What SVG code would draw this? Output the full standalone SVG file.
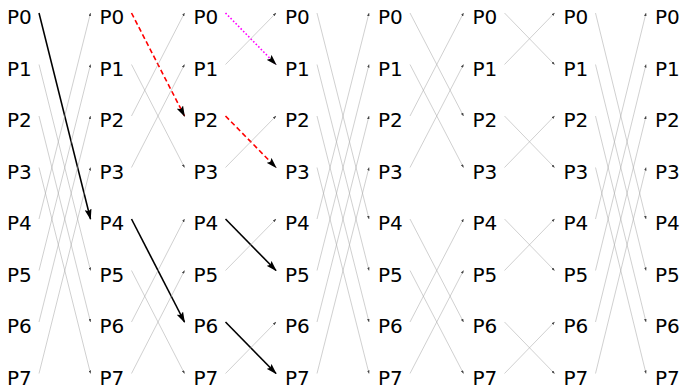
<svg xmlns="http://www.w3.org/2000/svg" width="685" height="388" viewBox="0 0 685 388">
<style>
text{font-family:"DejaVu Sans","Noto Sans",sans-serif;font-size:20px;fill:#000}
.g{stroke:#a8a8a8;stroke-width:0.55;fill:none;marker-end:url(#ag)}
.k{stroke:#000;stroke-width:1.6;fill:none;marker-end:url(#ak)}
.r{stroke:#f00;stroke-width:1.6;fill:none;stroke-dasharray:5 3;marker-end:url(#ak)}
.m{stroke:#f0f;stroke-width:1.6;fill:none;stroke-dasharray:1.6 2;marker-end:url(#ak)}
</style>
<defs>
<marker id="ag" markerUnits="userSpaceOnUse" viewBox="0 0 4 3" refX="3.6" refY="1.5" markerWidth="3.5" markerHeight="2.6" orient="auto"><path d="M0,0 L4,1.5 L0,3 z" fill="#444"/></marker>
<marker id="ak" markerUnits="userSpaceOnUse" viewBox="0 0 11 7" refX="10" refY="3.5" markerWidth="11" markerHeight="7" orient="auto"><path d="M0,0 L11,3.5 L0,7 L2,3.5 z" fill="#000"/></marker>
</defs>
<g id="connectors">
<line class="k" x1="39" y1="13" x2="90.5" y2="219"/>
<line class="g" x1="39" y1="64.5" x2="90.5" y2="270.5"/>
<line class="g" x1="39" y1="116" x2="90.5" y2="322"/>
<line class="g" x1="39" y1="167.5" x2="90.5" y2="373.5"/>
<line class="g" x1="39" y1="219" x2="90.5" y2="13"/>
<line class="g" x1="39" y1="270.5" x2="90.5" y2="64.5"/>
<line class="g" x1="39" y1="322" x2="90.5" y2="116"/>
<line class="g" x1="39" y1="373.5" x2="90.5" y2="167.5"/>

<line class="r" x1="131.5" y1="13" x2="184.5" y2="116"/>
<line class="g" x1="131.5" y1="64.5" x2="184.5" y2="167.5"/>
<line class="g" x1="131.5" y1="116" x2="184.5" y2="13"/>
<line class="g" x1="131.5" y1="167.5" x2="184.5" y2="64.5"/>
<line class="k" x1="131.5" y1="219" x2="184.5" y2="322"/>
<line class="g" x1="131.5" y1="270.5" x2="184.5" y2="373.5"/>
<line class="g" x1="131.5" y1="322" x2="184.5" y2="219"/>
<line class="g" x1="131.5" y1="373.5" x2="184.5" y2="270.5"/>

<line class="m" x1="225.5" y1="13" x2="276" y2="64.5"/>
<line class="g" x1="225.5" y1="64.5" x2="276" y2="13"/>
<line class="r" x1="225.5" y1="116" x2="276" y2="167.5"/>
<line class="g" x1="225.5" y1="167.5" x2="276" y2="116"/>
<line class="k" x1="225.5" y1="219" x2="276" y2="270.5"/>
<line class="g" x1="225.5" y1="270.5" x2="276" y2="219"/>
<line class="k" x1="225.5" y1="322" x2="276" y2="373.5"/>
<line class="g" x1="225.5" y1="373.5" x2="276" y2="322"/>

<line class="g" x1="317" y1="13" x2="369" y2="219"/>
<line class="g" x1="317" y1="64.5" x2="369" y2="270.5"/>
<line class="g" x1="317" y1="116" x2="369" y2="322"/>
<line class="g" x1="317" y1="167.5" x2="369" y2="373.5"/>
<line class="g" x1="317" y1="219" x2="369" y2="13"/>
<line class="g" x1="317" y1="270.5" x2="369" y2="64.5"/>
<line class="g" x1="317" y1="322" x2="369" y2="116"/>
<line class="g" x1="317" y1="373.5" x2="369" y2="167.5"/>

<line class="g" x1="410" y1="13" x2="463.5" y2="116"/>
<line class="g" x1="410" y1="64.5" x2="463.5" y2="167.5"/>
<line class="g" x1="410" y1="116" x2="463.5" y2="13"/>
<line class="g" x1="410" y1="167.5" x2="463.5" y2="64.5"/>
<line class="g" x1="410" y1="219" x2="463.5" y2="322"/>
<line class="g" x1="410" y1="270.5" x2="463.5" y2="373.5"/>
<line class="g" x1="410" y1="322" x2="463.5" y2="219"/>
<line class="g" x1="410" y1="373.5" x2="463.5" y2="270.5"/>

<line class="g" x1="504.5" y1="13" x2="554.5" y2="64.5"/>
<line class="g" x1="504.5" y1="64.5" x2="554.5" y2="13"/>
<line class="g" x1="504.5" y1="116" x2="554.5" y2="167.5"/>
<line class="g" x1="504.5" y1="167.5" x2="554.5" y2="116"/>
<line class="g" x1="504.5" y1="219" x2="554.5" y2="270.5"/>
<line class="g" x1="504.5" y1="270.5" x2="554.5" y2="219"/>
<line class="g" x1="504.5" y1="322" x2="554.5" y2="373.5"/>
<line class="g" x1="504.5" y1="373.5" x2="554.5" y2="322"/>

<line class="g" x1="595.5" y1="13" x2="646" y2="219"/>
<line class="g" x1="595.5" y1="64.5" x2="646" y2="270.5"/>
<line class="g" x1="595.5" y1="116" x2="646" y2="322"/>
<line class="g" x1="595.5" y1="167.5" x2="646" y2="373.5"/>
<line class="g" x1="595.5" y1="219" x2="646" y2="13"/>
<line class="g" x1="595.5" y1="270.5" x2="646" y2="64.5"/>
<line class="g" x1="595.5" y1="322" x2="646" y2="116"/>
<line class="g" x1="595.5" y1="373.5" x2="646" y2="167.5"/>
</g>
<g id="col0">
<g id="c0p0"><text x="7" y="24">P0</text></g>
<g id="c0p1"><text x="7" y="75.5">P1</text></g>
<g id="c0p2"><text x="7" y="127">P2</text></g>
<g id="c0p3"><text x="7" y="178.5">P3</text></g>
<g id="c0p4"><text x="7" y="230">P4</text></g>
<g id="c0p5"><text x="7" y="281.5">P5</text></g>
<g id="c0p6"><text x="7" y="333">P6</text></g>
<g id="c0p7"><text x="7" y="384.5">P7</text></g>
</g>
<g id="col1">
<g id="c1p0"><text x="99.5" y="24">P0</text></g>
<g id="c1p1"><text x="99.5" y="75.5">P1</text></g>
<g id="c1p2"><text x="99.5" y="127">P2</text></g>
<g id="c1p3"><text x="99.5" y="178.5">P3</text></g>
<g id="c1p4"><text x="99.5" y="230">P4</text></g>
<g id="c1p5"><text x="99.5" y="281.5">P5</text></g>
<g id="c1p6"><text x="99.5" y="333">P6</text></g>
<g id="c1p7"><text x="99.5" y="384.5">P7</text></g>
</g>
<g id="col2">
<g id="c2p0"><text x="193.5" y="24">P0</text></g>
<g id="c2p1"><text x="193.5" y="75.5">P1</text></g>
<g id="c2p2"><text x="193.5" y="127">P2</text></g>
<g id="c2p3"><text x="193.5" y="178.5">P3</text></g>
<g id="c2p4"><text x="193.5" y="230">P4</text></g>
<g id="c2p5"><text x="193.5" y="281.5">P5</text></g>
<g id="c2p6"><text x="193.5" y="333">P6</text></g>
<g id="c2p7"><text x="193.5" y="384.5">P7</text></g>
</g>
<g id="col3">
<g id="c3p0"><text x="285" y="24">P0</text></g>
<g id="c3p1"><text x="285" y="75.5">P1</text></g>
<g id="c3p2"><text x="285" y="127">P2</text></g>
<g id="c3p3"><text x="285" y="178.5">P3</text></g>
<g id="c3p4"><text x="285" y="230">P4</text></g>
<g id="c3p5"><text x="285" y="281.5">P5</text></g>
<g id="c3p6"><text x="285" y="333">P6</text></g>
<g id="c3p7"><text x="285" y="384.5">P7</text></g>
</g>
<g id="col4">
<g id="c4p0"><text x="378" y="24">P0</text></g>
<g id="c4p1"><text x="378" y="75.5">P1</text></g>
<g id="c4p2"><text x="378" y="127">P2</text></g>
<g id="c4p3"><text x="378" y="178.5">P3</text></g>
<g id="c4p4"><text x="378" y="230">P4</text></g>
<g id="c4p5"><text x="378" y="281.5">P5</text></g>
<g id="c4p6"><text x="378" y="333">P6</text></g>
<g id="c4p7"><text x="378" y="384.5">P7</text></g>
</g>
<g id="col5">
<g id="c5p0"><text x="472.5" y="24">P0</text></g>
<g id="c5p1"><text x="472.5" y="75.5">P1</text></g>
<g id="c5p2"><text x="472.5" y="127">P2</text></g>
<g id="c5p3"><text x="472.5" y="178.5">P3</text></g>
<g id="c5p4"><text x="472.5" y="230">P4</text></g>
<g id="c5p5"><text x="472.5" y="281.5">P5</text></g>
<g id="c5p6"><text x="472.5" y="333">P6</text></g>
<g id="c5p7"><text x="472.5" y="384.5">P7</text></g>
</g>
<g id="col6">
<g id="c6p0"><text x="563.5" y="24">P0</text></g>
<g id="c6p1"><text x="563.5" y="75.5">P1</text></g>
<g id="c6p2"><text x="563.5" y="127">P2</text></g>
<g id="c6p3"><text x="563.5" y="178.5">P3</text></g>
<g id="c6p4"><text x="563.5" y="230">P4</text></g>
<g id="c6p5"><text x="563.5" y="281.5">P5</text></g>
<g id="c6p6"><text x="563.5" y="333">P6</text></g>
<g id="c6p7"><text x="563.5" y="384.5">P7</text></g>
</g>
<g id="col7">
<g id="c7p0"><text x="655" y="24">P0</text></g>
<g id="c7p1"><text x="655" y="75.5">P1</text></g>
<g id="c7p2"><text x="655" y="127">P2</text></g>
<g id="c7p3"><text x="655" y="178.5">P3</text></g>
<g id="c7p4"><text x="655" y="230">P4</text></g>
<g id="c7p5"><text x="655" y="281.5">P5</text></g>
<g id="c7p6"><text x="655" y="333">P6</text></g>
<g id="c7p7"><text x="655" y="384.5">P7</text></g>
</g>
</svg>
